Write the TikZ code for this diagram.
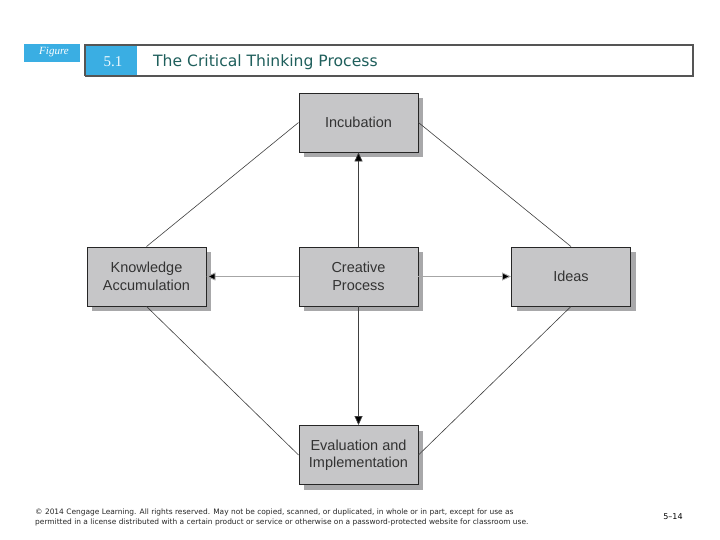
\documentclass[tikz,border=0pt]{standalone}
\usepackage{fontspec}
\setmainfont{Liberation Sans}
\newfontfamily\widesans{DejaVu Sans}
\newfontfamily\figserif{Liberation Serif}
\usetikzlibrary{arrows.meta,calc}
\definecolor{figblue}{HTML}{3AAEE3}
\definecolor{titlegreen}{HTML}{1F5F5C}
\definecolor{boxgray}{HTML}{C6C6C8}
\definecolor{shadowgray}{HTML}{A8A8AA}
\definecolor{framegray}{HTML}{555555}
\tikzset{
  procbox/.style={draw=black!85, line width=0.9pt, fill=boxgray, minimum width=119pt, minimum height=59pt,
    inner sep=2pt, align=center, font=\fontsize{14.5}{17.5}\selectfont, text=black!80},
  conn/.style={draw=black!75, line width=0.6pt},
  harrow/.style={draw=black!35, line width=0.9pt, -{Triangle[length=9pt,width=8pt,fill=black]}},
  varrow/.style={draw=black!75, line width=0.7pt, -{Triangle[length=9pt,width=8pt,fill=black]}},
}
\begin{document}
\begin{tikzpicture}[x=1pt,y=-1pt]
\useasboundingbox (0,0) rectangle (720,540);
\fill[white] (0,0) rectangle (720,540);
% header
\fill[figblue] (24,44) rectangle (80,62);
\node[font=\fontsize{11}{12}\selectfont\figserif\itshape, text=white, inner sep=0] (figlab) at (54,52) {Figure};
\fill[figblue] (85,44) rectangle (137,76);
\draw[framegray, line width=1.6pt] (85,76) -- (85,45) -- (693,45) -- (693,76) -- (85,76);
\node[font=\fontsize{15}{17}\selectfont\figserif, text=white!92!figblue, inner sep=0] (num) at (113,62) {5.1};
\node[font=\fontsize{15.6}{18}\selectfont\widesans, text=titlegreen, anchor=base west, inner sep=0] (title) at (153,67) {The Critical Thinking Process};
% shadows
\foreach \cx/\cy in {358.5/122.5, 146.5/276.5, 358.5/276.5, 571/276.5, 358.5/455}
  \fill[shadowgray] (\cx-59.5+5,\cy-29.5+5) rectangle (\cx+59.5+5,\cy+29.5+5);
% boxes
\node[procbox] (inc) at (358.5,122.5) {Incubation};
\node[procbox] (ka) at (146.5,276.5) {Knowledge\\Accumulation};
\node[procbox] (cp) at (358.5,276.5) {Creative\\Process};
\node[procbox] (ideas) at (571,276.5) {Ideas};
\node[procbox] (ev) at (358.5,455) {Evaluation and\\Implementation};
% diamond connectors
\draw[conn] (inc.west) -- (ka.north);
\draw[conn] (inc.east) -- (ideas.north);
\draw[conn] (ka.south) -- (ev.west);
\draw[conn] (ideas.south) -- (ev.east);
% arrows
\draw[varrow] (cp.north) -- (inc.south);
\draw[varrow] (cp.south) -- (ev.north);
\draw[harrow] (cp.west) -- (ka.east);
\draw[harrow] (cp.east) -- (ideas.west);
% footer
\node[font=\fontsize{7.45}{10}\selectfont\widesans, text=black!85, anchor=base west, align=left, inner sep=0] (copy) at (35,524)
 {© 2014 Cengage Learning. All rights reserved. May not be copied, scanned, or duplicated, in whole or in part, except for use as\\
  permitted in a license distributed with a certain product or service or otherwise on a password-protected website for classroom use.};
\node[font=\fontsize{8}{9}\selectfont\widesans, text=black, inner sep=0] (pg) at (673,517) {5–14};
\end{tikzpicture}
\end{document}
